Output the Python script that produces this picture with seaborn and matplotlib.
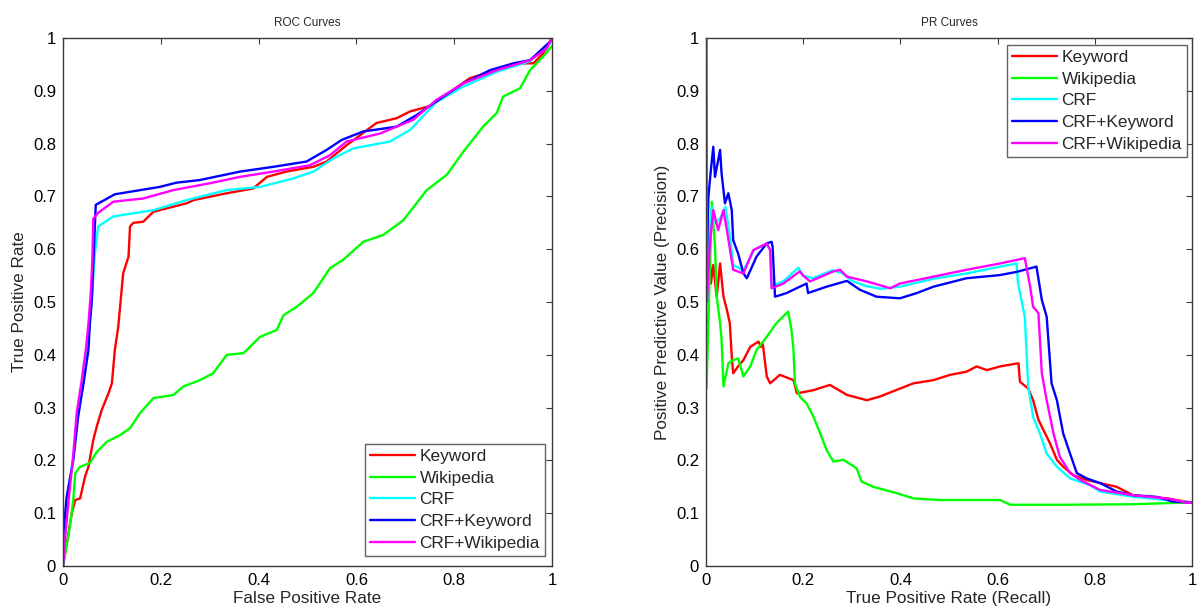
import matplotlib
matplotlib.use("Agg")
import matplotlib.pyplot as plt
from matplotlib.ticker import FuncFormatter
import seaborn as sns
import pandas as pd

# ---------------- data ----------------
series_names = ["Keyword", "Wikipedia", "CRF", "CRF+Keyword", "CRF+Wikipedia"]
series_colors = ["#ff0000", "#00ff00", "#00ffff", "#0000ff", "#ff00ff"]

# ROC curves
roc_kw_x = [0, 0.018, 0.025, 0.035, 0.045, 0.052, 0.062, 0.069, 0.079, 0.093, 0.1, 0.106, 0.113, 0.123,
            0.134, 0.137, 0.144, 0.164, 0.185, 0.253, 0.267, 0.335, 0.389, 0.417, 0.457, 0.512, 0.539,
            0.58, 0.641, 0.682, 0.71, 0.75, 0.778, 0.832, 0.887, 0.935, 0.962, 0.982, 1.0]
roc_kw_y = [0, 0.1, 0.125, 0.128, 0.169, 0.188, 0.239, 0.264, 0.295, 0.327, 0.346, 0.409, 0.453, 0.554,
            0.586, 0.643, 0.65, 0.652, 0.671, 0.687, 0.693, 0.706, 0.715, 0.737, 0.747, 0.756, 0.766,
            0.797, 0.839, 0.848, 0.861, 0.871, 0.889, 0.924, 0.939, 0.952, 0.952, 0.971, 1.0]

roc_wiki_x = [0, 0.014, 0.021, 0.025, 0.035, 0.055, 0.069, 0.089, 0.117, 0.137, 0.157, 0.185, 0.226,
              0.246, 0.28, 0.307, 0.335, 0.369, 0.403, 0.437, 0.451, 0.478, 0.512, 0.546, 0.573, 0.614,
              0.655, 0.696, 0.744, 0.785, 0.819, 0.859, 0.887, 0.9, 0.935, 0.955, 0.982, 1.0]
roc_wiki_y = [0, 0.074, 0.125, 0.176, 0.188, 0.195, 0.216, 0.235, 0.248, 0.261, 0.289, 0.318, 0.324,
              0.34, 0.352, 0.365, 0.4, 0.403, 0.434, 0.447, 0.475, 0.491, 0.517, 0.564, 0.58, 0.614,
              0.627, 0.655, 0.712, 0.741, 0.785, 0.832, 0.858, 0.889, 0.905, 0.939, 0.965, 0.985]

roc_crf_x = [0, 0.003, 0.01, 0.02, 0.03, 0.04, 0.05, 0.056, 0.06, 0.065, 0.072, 0.103, 0.185, 0.253,
             0.335, 0.403, 0.471, 0.512, 0.553, 0.594, 0.669, 0.71, 0.764, 0.819, 0.887, 0.955, 0.996, 1.0]
roc_crf_y = [0, 0.07, 0.14, 0.2, 0.28, 0.34, 0.41, 0.47, 0.52, 0.59, 0.643, 0.662, 0.674, 0.693,
             0.712, 0.718, 0.734, 0.747, 0.772, 0.791, 0.804, 0.826, 0.879, 0.908, 0.936, 0.956, 0.99, 1.0]

roc_crfkw_x = [0, 0.0007, 0.0075, 0.021, 0.031, 0.042, 0.052, 0.055, 0.059, 0.062, 0.067, 0.106, 0.198,
               0.232, 0.28, 0.362, 0.43, 0.498, 0.539, 0.57, 0.614, 0.682, 0.723, 0.778, 0.819, 0.873,
               0.921, 0.955, 0.996, 1.0]
roc_crfkw_y = [0, 0.062, 0.131, 0.2, 0.283, 0.346, 0.409, 0.46, 0.504, 0.573, 0.684, 0.704, 0.718,
               0.726, 0.731, 0.747, 0.756, 0.766, 0.788, 0.807, 0.823, 0.832, 0.854, 0.889, 0.914, 0.939,
               0.952, 0.958, 0.993, 1.0]

roc_crfwiki_x = [0, 0.005, 0.012, 0.02, 0.028, 0.038, 0.048, 0.053, 0.057, 0.06, 0.062, 0.072, 0.103,
                 0.164, 0.226, 0.301, 0.362, 0.43, 0.505, 0.546, 0.58, 0.648, 0.716, 0.764, 0.819, 0.887,
                 0.955, 0.989, 1.0]
roc_crfwiki_y = [0, 0.06, 0.13, 0.2, 0.29, 0.35, 0.42, 0.47, 0.52, 0.58, 0.658, 0.669, 0.69,
                 0.696, 0.712, 0.725, 0.737, 0.747, 0.759, 0.778, 0.804, 0.819, 0.845, 0.883, 0.914, 0.939,
                 0.958, 0.98, 1.0]

# PR curves
pr_kw_x = [0.001, 0.008, 0.010, 0.015, 0.022, 0.029, 0.036, 0.043, 0.049, 0.053, 0.056, 0.066, 0.077,
           0.091, 0.108, 0.113, 0.117, 0.125, 0.132, 0.152, 0.18, 0.187, 0.221, 0.255, 0.29, 0.331, 0.358,
           0.399, 0.427, 0.468, 0.502, 0.536, 0.557, 0.578, 0.605, 0.643, 0.646, 0.663, 0.673, 0.684,
           0.694, 0.708, 0.722, 0.735, 0.756, 0.783, 0.811, 0.845, 0.879, 0.948, 1.0]
pr_kw_y = [0.46, 0.58, 0.535, 0.57, 0.51, 0.573, 0.51, 0.485, 0.46, 0.397, 0.365, 0.378, 0.39,
           0.415, 0.425, 0.415, 0.42, 0.359, 0.346, 0.362, 0.352, 0.327, 0.333, 0.343, 0.324, 0.314, 0.321,
           0.336, 0.346, 0.352, 0.362, 0.368, 0.378, 0.371, 0.378, 0.384, 0.349, 0.336, 0.314, 0.277,
           0.258, 0.232, 0.201, 0.188, 0.172, 0.163, 0.157, 0.15, 0.134, 0.128, 0.12]

pr_wiki_x = [0.001, 0.012, 0.0185, 0.022, 0.029, 0.032, 0.036, 0.046, 0.056, 0.066, 0.077, 0.091, 0.104,
             0.125, 0.145, 0.169, 0.176, 0.18, 0.183, 0.193, 0.207, 0.221, 0.235, 0.248, 0.262, 0.283,
             0.31, 0.32, 0.344, 0.392, 0.427, 0.481, 0.536, 0.605, 0.626, 0.742, 0.879, 0.982, 1.0]
pr_wiki_y = [0.336, 0.69, 0.605, 0.51, 0.46, 0.43, 0.34, 0.384, 0.39, 0.393, 0.359, 0.378, 0.409,
             0.434, 0.46, 0.482, 0.447, 0.409, 0.346, 0.321, 0.308, 0.283, 0.251, 0.22, 0.198, 0.201,
             0.185, 0.16, 0.15, 0.138, 0.128, 0.125, 0.125, 0.125, 0.116, 0.116, 0.117, 0.12, 0.12]

pr_crf_x = [0.001, 0.006, 0.012, 0.02, 0.03, 0.04, 0.05, 0.056, 0.077, 0.1, 0.125, 0.132, 0.135, 0.16,
            0.19, 0.2, 0.22, 0.26, 0.28, 0.3, 0.33, 0.36, 0.399, 0.468, 0.536, 0.605, 0.639, 0.642, 0.656,
            0.663, 0.673, 0.687, 0.701, 0.722, 0.749, 0.79, 0.811, 0.879, 0.982, 1.0]
pr_crf_y = [0.47, 0.62, 0.68, 0.65, 0.66, 0.68, 0.62, 0.57, 0.56, 0.6, 0.61, 0.6, 0.53, 0.54,
            0.565, 0.55, 0.545, 0.56, 0.555, 0.54, 0.53, 0.525, 0.529, 0.544, 0.554, 0.567, 0.573, 0.535,
            0.472, 0.34, 0.283, 0.251, 0.213, 0.188, 0.166, 0.153, 0.141, 0.131, 0.122, 0.12]

pr_crfkw_x = [0.001, 0.005, 0.01, 0.015, 0.0185, 0.029, 0.032, 0.039, 0.046, 0.053, 0.056, 0.066, 0.077,
              0.084, 0.104, 0.125, 0.135, 0.137, 0.142, 0.166, 0.193, 0.207, 0.21, 0.248, 0.29, 0.317,
              0.351, 0.399, 0.434, 0.468, 0.536, 0.605, 0.639, 0.68, 0.691, 0.701, 0.711, 0.722, 0.735,
              0.749, 0.763, 0.783, 0.811, 0.845, 0.879, 0.927, 0.961, 1.0]
pr_crfkw_y = [0.55, 0.7, 0.75, 0.794, 0.737, 0.788, 0.744, 0.687, 0.706, 0.674, 0.617, 0.592, 0.554,
              0.545, 0.586, 0.611, 0.614, 0.605, 0.51, 0.517, 0.529, 0.535, 0.517, 0.529, 0.54, 0.523,
              0.51, 0.507, 0.517, 0.529, 0.545, 0.551, 0.557, 0.567, 0.504, 0.472, 0.346, 0.314, 0.251,
              0.213, 0.176, 0.166, 0.157, 0.141, 0.134, 0.131, 0.122, 0.12]

pr_crfwiki_x = [0.0, 0.001, 0.002, 0.008, 0.015, 0.025, 0.036, 0.043, 0.056, 0.077, 0.097, 0.125, 0.132,
                0.135, 0.159, 0.193, 0.2, 0.214, 0.262, 0.276, 0.29, 0.331, 0.379, 0.399, 0.468, 0.536,
                0.605, 0.656, 0.667, 0.673, 0.684, 0.691, 0.701, 0.715, 0.728, 0.749, 0.77, 0.811, 0.879,
                0.948, 0.989, 1.0]
pr_crfwiki_y = [1.0, 1.0, 0.5, 0.611, 0.674, 0.636, 0.674, 0.636, 0.561, 0.554, 0.598, 0.611, 0.598,
                0.526, 0.535, 0.558, 0.55, 0.539, 0.558, 0.561, 0.548, 0.539, 0.526, 0.535, 0.548, 0.561,
                0.573, 0.583, 0.529, 0.491, 0.479, 0.365, 0.314, 0.251, 0.207, 0.176, 0.163, 0.144, 0.134,
                0.128, 0.12, 0.12]

tick_values = [0, 0.2, 0.4, 0.6, 0.8, 1.0]
ytick_values = [0, 0.1, 0.2, 0.3, 0.4, 0.5, 0.6, 0.7, 0.8, 0.9, 1.0]

roc_series = [(roc_kw_x, roc_kw_y), (roc_wiki_x, roc_wiki_y), (roc_crf_x, roc_crf_y),
              (roc_crfkw_x, roc_crfkw_y), (roc_crfwiki_x, roc_crfwiki_y)]
pr_series = [(pr_kw_x, pr_kw_y), (pr_wiki_x, pr_wiki_y), (pr_crf_x, pr_crf_y),
             (pr_crfkw_x, pr_crfkw_y), (pr_crfwiki_x, pr_crfwiki_y)]

# ---------------- style ----------------
sns.set_style("white")
plt.rcParams["font.family"] = ["Liberation Sans", "DejaVu Sans"]
plt.rcParams["axes.edgecolor"] = "#3a3a3a"
plt.rcParams["axes.linewidth"] = 1.0

fig = plt.figure(figsize=(12.02, 6.11), dpi=100)
ax1 = fig.add_axes([63 / 1202, 1 - 566 / 611, (552 - 63) / 1202, (566 - 38) / 611])
ax2 = fig.add_axes([706 / 1202, 1 - 566 / 611, (1192 - 706) / 1202, (566 - 38) / 611])


def draw(ax, series, title, xlabel, ylabel, legend_anchor):
    for (xs, ys), name, col in zip(series, series_names, series_colors):
        df = pd.DataFrame({"x": xs, "y": ys})
        sns.lineplot(data=df, x="x", y="y", ax=ax, color=col, linewidth=1.7,
                     sort=False, estimator=None, label=name)
    ax.set_xlim(0, 1)
    ax.set_ylim(0, 1)
    ax.set_xticks(tick_values)
    ax.set_yticks(ytick_values)
    fmt = FuncFormatter(lambda v, p: f"{v:g}")
    ax.xaxis.set_major_formatter(fmt)
    ax.yaxis.set_major_formatter(fmt)
    ax.tick_params(direction="in", length=4, width=0.8, top=True, right=True,
                   labelsize=12, colors="#3a3a3a", labelcolor="black", pad=5)
    ax.set_title(title, fontsize=8.5, pad=9)
    ax.set_xlabel(xlabel, fontsize=12.3, labelpad=2)
    ax.set_ylabel(ylabel, fontsize=12.3, labelpad=4)
    for s in ax.spines.values():
        s.set_visible(True)
    leg = ax.legend(loc="upper right", bbox_to_anchor=legend_anchor, fontsize=12.4,
                    frameon=True, fancybox=False, handlelength=2.6, handletextpad=0.25,
                    labelspacing=0.38, borderpad=0.3, borderaxespad=0.0)
    leg.get_frame().set_edgecolor("#3a3a3a")
    leg.get_frame().set_linewidth(1.0)
    for h in leg.get_lines():
        h.set_linewidth(1.7)


draw(ax1, roc_series, "ROC Curves", "False Positive Rate", "True Positive Rate",
     ((545 - 63) / 489, (566 - 444) / 528))
draw(ax2, pr_series, "PR Curves", "True Positive Rate (Recall)",
     "Positive Predictive Value (Precision)", ((1187 - 706) / 486, (566 - 45) / 528))

fig.savefig("out.png", dpi=100)
